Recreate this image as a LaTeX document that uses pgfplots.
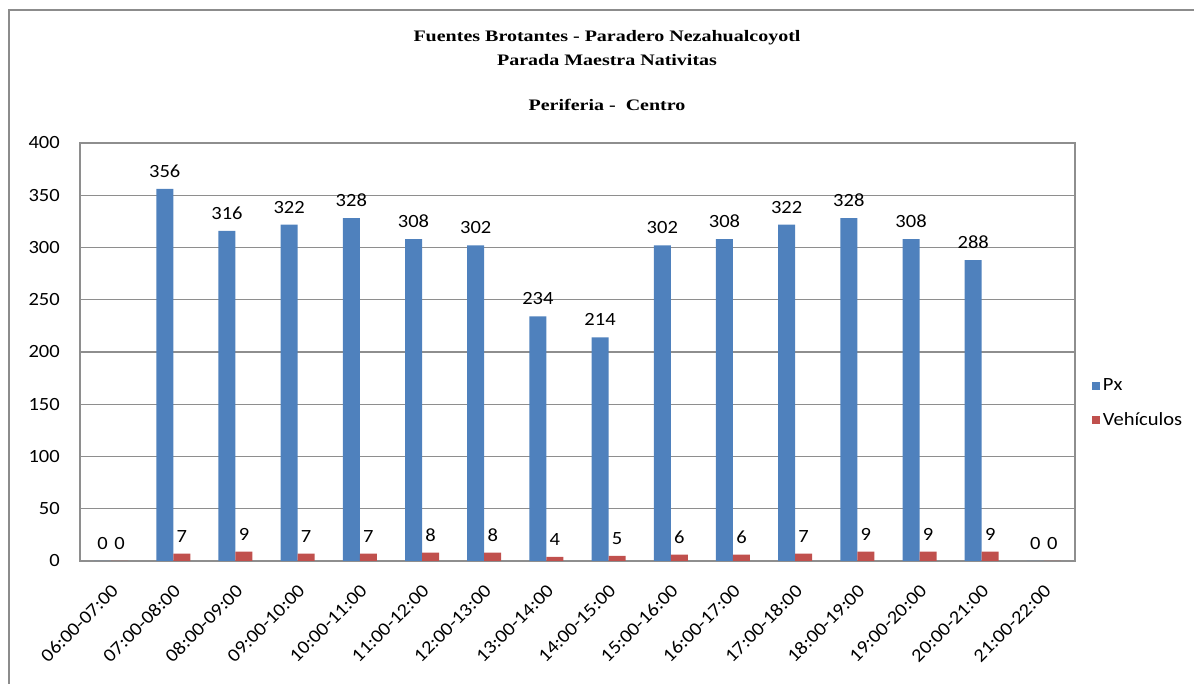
\documentclass[border=0pt]{standalone}
\usepackage{fontspec}
\setmainfont{Carlito}[FakeStretch=1.1]
\newfontfamily\titlefont[FakeStretch=1.25]{Liberation Serif}
\usepackage{pgfplots}
\pgfplotsset{compat=1.18}
\definecolor{pxblue}{HTML}{4F81BD}
\definecolor{vehred}{HTML}{C0504D}
\definecolor{frameg}{HTML}{8C8C8C}
\definecolor{gridg}{HTML}{8E8E8E}
\begin{document}
\begin{tikzpicture}
\useasboundingbox (0,0) rectangle (895.5pt,513pt);
\draw[frameg, line width=2pt] (6.75pt,0pt) -- (6.75pt,505.5pt) -- (895.5pt,505.5pt);
\node[font=\titlefont\bfseries\fontsize{12}{14}\selectfont] at (455.25pt,484.5pt) {Fuentes Brotantes - Paradero Nezahualcoyotl};
\node[font=\titlefont\bfseries\fontsize{12}{14}\selectfont] at (455.25pt,468pt) {Parada Maestra Nativitas};
\node[font=\titlefont\bfseries\fontsize{12}{14}\selectfont] at (455.25pt,434.25pt) {Periferia -\ \ Centro};
\begin{axis}[
  at={(60pt,92.25pt)}, anchor=south west,
  scale only axis, width=746.25pt, height=313.5pt,
  ybar=0pt, bar width=12.75pt,
  xmin=-0.5, xmax=15.5, ymin=0, ymax=400,
  ytick={0,50,...,400},
  xtick={0,...,15},
  xticklabels={06:00-07:00,07:00-08:00,08:00-09:00,09:00-10:00,10:00-11:00,11:00-12:00,12:00-13:00,13:00-14:00,14:00-15:00,15:00-16:00,16:00-17:00,17:00-18:00,18:00-19:00,19:00-20:00,20:00-21:00,21:00-22:00},
  major tick length=0pt,
  ymajorgrids, grid style={gridg, line width=0.8pt},
  axis line style={gridg, line width=0.8pt},
  /pgf/number format/assume math mode=true,
  tick label style={font=\fontsize{14}{16}\selectfont},
  yticklabel style={inner sep=0pt, xshift=-15pt},
  xticklabel style={inner sep=0pt, xshift=3pt, yshift=-20pt, rotate=45, anchor=east},
  nodes near coords,
  every node near coord/.append style={font=\fontsize{14}{16}\selectfont, black, yshift=5pt},
  legend style={at={(1.013,0.377)}, anchor=west, draw=none, fill=none,
    font=\fontsize{14}{16}\selectfont, row sep=11pt},
  legend cell align=left,
  legend image code/.code={\fill[#1] (0pt,-3pt) rectangle (6pt,3pt);},
]
\addplot[fill=pxblue, draw=none] coordinates {(0,0) (1,356) (2,316) (3,322) (4,328) (5,308) (6,302) (7,234) (8,214) (9,302) (10,308) (11,322) (12,328) (13,308) (14,288) (15,0)};
\addplot[fill=vehred, draw=none] coordinates {(0,0) (1,7) (2,9) (3,7) (4,7) (5,8) (6,8) (7,4) (8,5) (9,6) (10,6) (11,7) (12,9) (13,9) (14,9) (15,0)};
\legend{Px,Vehículos}
\end{axis}
\end{tikzpicture}
\end{document}
